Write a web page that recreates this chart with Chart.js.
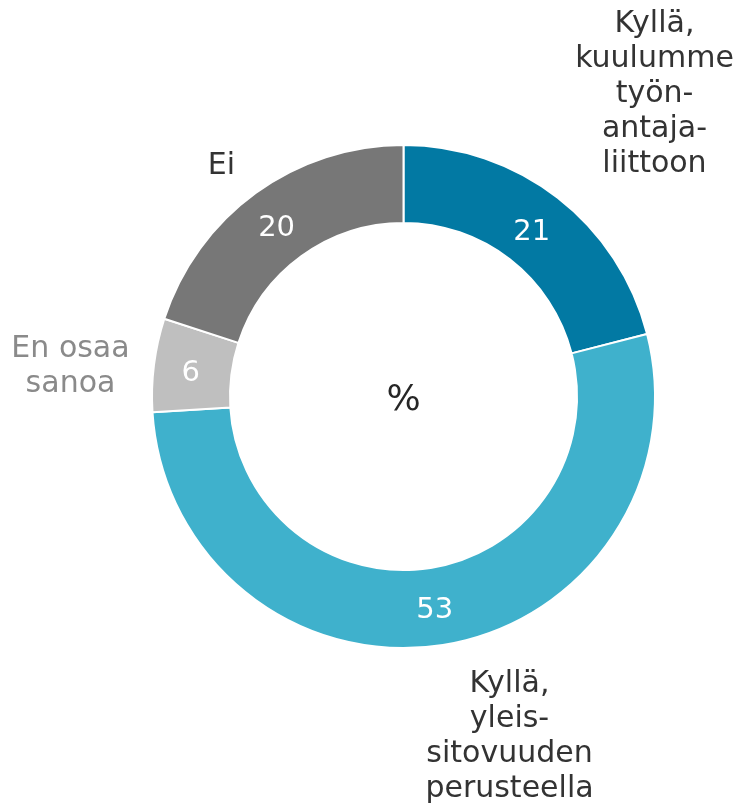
<!DOCTYPE html>
<html>
<head>
<meta charset="utf-8">
<script src="https://cdn.jsdelivr.net/npm/chart.js@4.4.0/dist/chart.umd.min.js"></script>
<style>
  html, body { margin: 0; padding: 0; background: #fff; }
  #wrap { width: 741px; height: 808px; }
</style>
</head>
<body>
<div id="wrap"><canvas id="donut" width="741" height="808"></canvas></div>
<script>
// data, clockwise from the top
const categories = [
    ['Kyllä,', 'kuulumme', 'työn-', 'antaja-', 'liittoon'],
    ['Kyllä,', 'yleis-', 'sitovuuden', 'perusteella'],
    ['En osaa', 'sanoa'],
    ['Ei']
];
const values = [21, 53, 6, 20];

const colors = ['#0279a3', '#3fb1cc', '#bfbfbf', '#777777'];
const labelColors = ['#333333', '#333333', '#8a8a8a', '#333333'];
// outside label offset from the chart centre (first line)
const labelOffsets = [[251, -372], [106, 288], [-333, -47], [-182, -230]];

const FONT = '"DejaVu Sans", Verdana, sans-serif';

const labelPlugin = {
    id: 'donutLabels',
    afterDraw(chart) {
        const ctx = chart.ctx;
        const meta = chart.getDatasetMeta(0);
        const cx = (chart.chartArea.left + chart.chartArea.right) / 2;
        const cy = (chart.chartArea.top + chart.chartArea.bottom) / 2;
        ctx.save();
        ctx.textAlign = 'center';
        ctx.textBaseline = 'middle';

        meta.data.forEach((arc, i) => {
            const p = arc.tooltipPosition();
            ctx.font = '29px ' + FONT;
            ctx.fillStyle = '#ffffff';
            ctx.fillText(values[i], p.x - 2, p.y + 4);

            ctx.font = '30px ' + FONT;
            ctx.fillStyle = labelColors[i];
            categories[i].forEach((line, k) => {
                ctx.fillText(line, cx + labelOffsets[i][0], cy + labelOffsets[i][1] + k * 35);
            });
        });

        ctx.font = '36px ' + FONT;
        ctx.fillStyle = '#262626';
        ctx.fillText('%', cx, cy + 4);
        ctx.restore();
    }
};

new Chart(document.getElementById('donut'), {
    type: 'doughnut',
    data: {
        labels: categories.map(c => c.join(' ')),
        datasets: [
            {
                data: values,
                backgroundColor: colors,
                borderColor: '#ffffff',
                borderWidth: 2,
                hoverOffset: 0
            }
        ]
    },
    options: {
        responsive: false,
        animation: false,
        cutout: '69%',
        layout: { padding: { left: 151, right: 85, top: 144, bottom: 159 } },
        events: [],
        plugins: {
            legend: { display: false },
            tooltip: { enabled: false }
        }
    },
    plugins: [labelPlugin]
});
</script>
</body>
</html>
